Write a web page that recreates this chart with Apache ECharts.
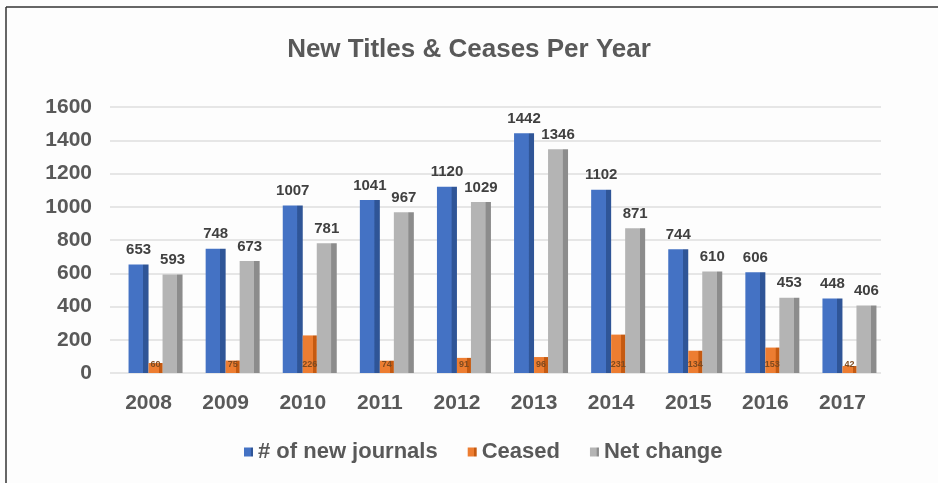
<!DOCTYPE html>
<html>
<head>
<meta charset="utf-8">
<script src="https://cdn.jsdelivr.net/npm/echarts@6/dist/echarts.min.js"></script>
<style>
  html, body { margin: 0; padding: 0; background: #ffffff; }
  #chart { width: 938px; height: 483px; }
</style>
</head>
<body>
<div id="chart"></div>
<script>
// Journal titles launched, ceased and net change per year
const years = ['2008', '2009', '2010', '2011', '2012', '2013', '2014', '2015', '2016', '2017'];
const newJournals = [653, 748, 1007, 1041, 1120, 1442, 1102, 744, 606, 448];
const ceased = [60, 75, 226, 74, 91, 96, 231, 134, 153, 42];
const netChange = [593, 673, 781, 967, 1029, 1346, 871, 610, 453, 406];
const yTicks = [0, 200, 400, 600, 800, 1000, 1200, 1400, 1600];

// Bars get a darker strip on the right edge to suggest a side face
function faceFill(light, dark) {
  return new echarts.graphic.LinearGradient(0, 0, 1, 0, [
    { offset: 0, color: light },
    { offset: 0.72, color: light },
    { offset: 0.74, color: dark },
    { offset: 1, color: dark }
  ]);
}

const chart = echarts.init(document.getElementById('chart'));
const textColor = '#595959';
const font = 'Liberation Sans, Arial, sans-serif';
const yMin = yTicks[0];
const yMax = yTicks[yTicks.length - 1];

chart.setOption({
  backgroundColor: '#fdfdfd',
  animation: false,
  title: {
    text: 'New Titles & Ceases Per Year',
    left: 'center',
    top: 32,
    textStyle: { fontFamily: font, fontSize: 26, fontWeight: 'bold', color: textColor }
  },
  legend: {
    bottom: 15,
    left: 239,
    itemWidth: 9,
    itemHeight: 9,
    itemGap: 30,
    icon: 'rect',
    textStyle: { fontFamily: font, fontSize: 22, fontWeight: 'bold', color: textColor },
    data: ['# of new journals', 'Ceased', 'Net change']
  },
  // grid 0 carries the labelled axes; grid 1 (nudged right) carries the bars
  grid: [
    { left: 110, right: 57, top: 107, bottom: 110 },
    { left: 117, right: 50, top: 107, bottom: 110 }
  ],
  xAxis: [
    {
      type: 'category',
      gridIndex: 0,
      data: years,
      axisLine: { show: false },
      axisTick: { show: false },
      axisLabel: { fontFamily: font, fontSize: 21, fontWeight: 'bold', color: textColor, margin: 20 }
    },
    {
      type: 'category',
      gridIndex: 1,
      data: years,
      show: false
    }
  ],
  yAxis: [
    {
      type: 'value',
      gridIndex: 0,
      min: yMin,
      max: yMax,
      interval: 200,
      axisLine: { show: false },
      axisTick: { show: false },
      axisLabel: {
        fontFamily: font, fontSize: 21, fontWeight: 'bold', color: textColor, margin: 18,
        formatter: (v) => String(v)
      },
      splitLine: { lineStyle: { color: '#e6e6e6', width: 2 } }
    },
    {
      type: 'value',
      gridIndex: 1,
      min: yMin,
      max: yMax,
      interval: 200,
      show: false,
      splitLine: { show: false }
    }
  ],
  series: [
    {
      name: '# of new journals',
      type: 'bar',
      xAxisIndex: 1,
      yAxisIndex: 1,
      data: newJournals,
      barWidth: 20,
      barGap: '0%',
      itemStyle: { color: faceFill('#4472c4', '#2f5597') },
      label: {
        show: true, position: 'top', distance: 7,
        fontFamily: font, fontSize: 15, fontWeight: 'bold', color: '#404040'
      },
      z: 2
    },
    {
      name: 'Ceased',
      type: 'bar',
      xAxisIndex: 1,
      yAxisIndex: 1,
      data: ceased,
      barWidth: 14,
      itemStyle: { color: faceFill('#ed7d31', '#c55a11') },
      label: {
        show: true, position: 'insideBottom', distance: 4,
        fontFamily: font, fontSize: 9, fontWeight: 'bold', color: '#7f4a1f'
      },
      z: 3
    },
    {
      name: 'Net change',
      type: 'bar',
      xAxisIndex: 1,
      yAxisIndex: 1,
      data: netChange,
      barWidth: 20,
      itemStyle: { color: faceFill('#b4b4b4', '#8c8c8c') },
      label: {
        show: true, position: 'top', distance: 7,
        fontFamily: font, fontSize: 15, fontWeight: 'bold', color: '#404040'
      },
      z: 2
    }
  ],
  color: ['#4472c4', '#ed7d31', '#a5a5a5'],
  graphic: [
    { type: 'line', shape: { x1: 6, y1: 7, x2: 938, y2: 7 }, style: { stroke: '#333', lineWidth: 1.5 } },
    { type: 'line', shape: { x1: 6, y1: 7, x2: 6, y2: 483 }, style: { stroke: '#333', lineWidth: 1.5 } }
  ]
});
</script>
</body>
</html>
